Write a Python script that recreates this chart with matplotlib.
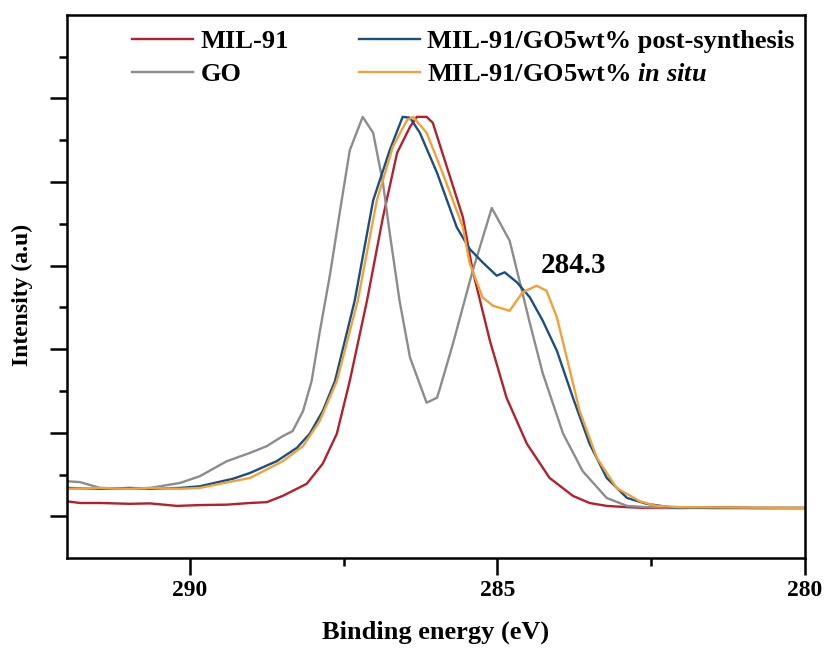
import matplotlib
matplotlib.use("Agg")
import matplotlib.pyplot as plt

plt.rcParams["font.family"] = ["Liberation Serif", "DejaVu Serif"]
plt.rcParams["font.weight"] = "bold"
plt.rcParams["mathtext.fontset"] = "custom"
plt.rcParams["mathtext.rm"] = "Liberation Serif:bold"
plt.rcParams["mathtext.it"] = "Liberation Serif:italic:bold"

# binding energy (eV) / intensity (a.u.)
mil91_be = [292.00, 291.79, 291.46, 290.98, 290.65, 290.21, 289.84, 289.40, 289.02,
            288.75, 288.49, 288.10, 287.84, 287.61, 287.40, 287.12, 286.86, 286.63,
            286.42, 286.31, 286.15, 286.05, 285.82, 285.56, 285.40, 285.12, 284.85,
            284.52, 284.15, 283.77, 283.50, 283.22, 282.89, 282.57, 282.00, 281.40,
            280.80, 280.00]
mil91_int = [0.68, 0.66, 0.66, 0.65, 0.655, 0.625, 0.635, 0.64, 0.66,
             0.67, 0.745, 0.89, 1.13, 1.49, 2.12, 3.08, 4.08, 4.85,
             5.16, 5.28, 5.28, 5.21, 4.68, 4.08, 3.44, 2.60, 1.92,
             1.37, 0.96, 0.745, 0.66, 0.625, 0.61, 0.60, 0.60, 0.61,
             0.60, 0.60]

go_be = [292.00, 291.79, 291.46, 290.98, 290.65, 290.16, 289.84, 289.40, 289.02,
         288.75, 288.49, 288.33, 288.16, 288.02, 287.89, 287.72, 287.56, 287.40,
         287.19, 287.02, 286.86, 286.75, 286.59, 286.42, 286.15, 285.98, 285.93,
         285.72, 285.40, 285.09, 284.80, 284.63, 284.47, 284.26, 283.93, 283.61,
         283.22, 282.89, 282.57, 282.00, 280.00]
go_int = [0.92, 0.91, 0.84, 0.83, 0.84, 0.90, 0.98, 1.16, 1.26,
          1.34, 1.46, 1.52, 1.76, 2.12, 2.70, 3.40, 4.15, 4.88,
          5.28, 5.09, 4.49, 3.89, 3.08, 2.40, 1.86, 1.92, 2.04,
          2.57, 3.44, 4.19, 3.80, 3.29, 2.81, 2.21, 1.49, 1.04,
          0.72, 0.625, 0.61, 0.60, 0.60]

post_be = [292.00, 291.46, 290.98, 290.65, 290.16, 289.84, 289.30, 289.02, 288.59,
           288.26, 288.05, 287.84, 287.64, 287.32, 287.02, 286.75, 286.54, 286.42,
           286.26, 285.98, 285.66, 285.45, 285.24, 285.01, 284.88, 284.68, 284.47,
           284.26, 284.03, 283.77, 283.50, 283.22, 282.89, 282.57, 282.20, 281.50,
           280.00]
post_int = [0.84, 0.83, 0.84, 0.83, 0.84, 0.86, 0.95, 1.02, 1.16,
            1.32, 1.49, 1.76, 2.12, 3.08, 4.28, 4.88, 5.28, 5.27,
            5.09, 4.61, 3.96, 3.70, 3.54, 3.38, 3.42, 3.30, 3.12,
            2.84, 2.48, 1.92, 1.37, 0.96, 0.72, 0.65, 0.61, 0.60,
            0.60]

insitu_be = [292.00, 291.46, 290.98, 290.65, 290.16, 289.84, 289.30, 289.02, 288.49,
             288.16, 287.89, 287.61, 287.27, 286.96, 286.70, 286.47, 286.37, 286.15,
             285.89, 285.56, 285.45, 285.24, 285.07, 284.80, 284.59, 284.36, 284.20,
             284.03, 283.87, 283.66, 283.38, 283.06, 282.68, 282.41, 282.00, 280.00]
insitu_int = [0.83, 0.84, 0.83, 0.84, 0.83, 0.84, 0.92, 0.96, 1.16,
              1.34, 1.64, 2.12, 3.08, 4.28, 4.92, 5.24, 5.28, 5.09,
              4.61, 3.96, 3.53, 3.12, 3.02, 2.96, 3.18, 3.26, 3.20,
              2.88, 2.40, 1.76, 1.20, 0.84, 0.68, 0.625, 0.61, 0.60]

series = [
    ("MIL-91", mil91_be, mil91_int, "#B3202E"),
    ("GO", go_be, go_int, "#8C8C8C"),
    ("MIL-91/GO5wt% post-synthesis", post_be, post_int, "#1B4F82"),
    (r"MIL-91/GO5wt% $\mathit{in\ situ}$", insitu_be, insitu_int, "#F0A238"),
]

peak_label = "284.3"
peak_pos = (284.3, 3.5)

fig = plt.figure(figsize=(8.27, 6.49), dpi=100)
ax = fig.add_axes([0.081, 0.140, 0.892, 0.837])

for label, be, inten, color in series:
    ax.plot(be, inten, color=color, lw=1.7, label=label)

ax.set_xlim(292, 280)
ax.set_ylim(0, 6.5)
ax.set_xticks([290, 285, 280])
ax.set_xticks([287.5, 282.5], minor=True)
ax.set_yticks([0.5, 1.5, 2.5, 3.5, 4.5, 5.5])
ax.set_yticks([1, 2, 3, 4, 5, 6], minor=True)
ax.set_yticklabels([])
ax.tick_params(axis="both", which="major", direction="out", length=12, width=1.8,
               labelsize=17)
ax.tick_params(axis="both", which="minor", direction="out", length=6, width=1.8)
for lab in ax.get_xticklabels():
    lab.set_fontweight("bold")
for sp in ax.spines.values():
    sp.set_linewidth(1.8)

ax.set_xlabel("Binding energy (eV)", fontsize=19, fontweight="bold", labelpad=14)
ax.set_ylabel("Intensity (a.u)", fontsize=17, fontweight="bold")
ax.yaxis.set_label_coords(-0.046, 0.485)

ax.text(peak_pos[0], peak_pos[1], peak_label, fontsize=21, fontweight="bold",
        ha="left", va="center")

ax.legend(loc="upper left", bbox_to_anchor=(0.088, 0.973), ncol=2, frameon=False,
          handlelength=2.3, handletextpad=0.3, columnspacing=2.65,
          labelspacing=0.36, borderpad=0, borderaxespad=0,
          prop={"weight": "bold", "size": 19})

fig.savefig("out.png", dpi=100)
